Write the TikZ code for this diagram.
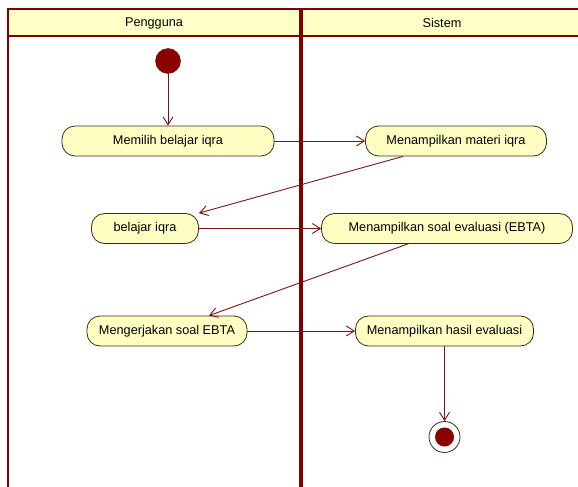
\documentclass[tikz,border=0pt]{standalone}
\usepackage{fontspec}
\setmainfont{Liberation Sans}
\usetikzlibrary{arrows.meta}

\definecolor{laneline}{RGB}{128,0,0}
\definecolor{flowline}{RGB}{120,20,20}
\definecolor{headfill}{RGB}{255,255,200}
\definecolor{actfill}{RGB}{255,255,196}
\definecolor{actline}{RGB}{60,45,20}
\definecolor{dotred}{RGB}{140,0,0}

\begin{document}
\begin{tikzpicture}[x=1pt,y=-1pt,font=\fontsize{12.7}{14}\selectfont]

      \useasboundingbox (0,0) rectangle (578,487);

      % swimlanes
      \fill[headfill] (8,9) rectangle (580,36);
      \draw[laneline,line width=2.5pt] (8,490) -- (8,9) -- (580,9);
      \draw[laneline,line width=2.5pt] (8,36) -- (580,36);
      \draw[laneline,line width=4pt] (301,9) -- (301,490);
      \node (pengguna) at (154,23) {Pengguna};
      \node (sistem)   at (442,23) {Sistem};

      \node[circle,fill=dotred,draw=dotred!70!black,minimum size=25pt,inner sep=0pt] (start) at (168,61) {};
      \node[circle,draw=actline,line width=0.8pt,fill=white,minimum size=31pt,inner sep=0pt] (end) at (444.5,437) {};
      \fill[dotred] (end.center) circle[radius=9.5pt];

      \begin{scope}[every node/.style={draw=actline,line width=0.8pt,fill=actfill,rounded corners=13pt,
          minimum height=30pt,inner sep=0pt}]
        \node[minimum width=212pt] (memilih)    at (168,141)   {Memilih belajar iqra};
        \node[minimum width=181pt] (materi)     at (456,141)   {Menampilkan materi iqra};
        \node[minimum width=107pt] (belajar)    at (145,228.5) {belajar iqra};
        \node[minimum width=251pt] (soal)       at (447,228.5) {Menampilkan soal evaluasi (EBTA)};
        \node[minimum width=160pt] (mengerjakan) at (167,331)  {Mengerjakan soal EBTA};
        \node[minimum width=178pt] (hasil)      at (444.5,331) {Menampilkan hasil evaluasi};
      \end{scope}

      \begin{scope}[every edge/.style={draw=flowline,line width=0.9pt,
          -{Straight Barb[length=8pt,width=10pt]}}]
        \path (start)       edge (memilih);
        \path (memilih)     edge (materi);
        \path ([xshift=-53pt]materi.south) edge (belajar.north east);
        \path (belajar)     edge (soal);
        \path ([xshift=-39pt]soal.south)   edge ([xshift=42pt]mengerjakan.north);
        \path (mengerjakan) edge (hasil);
        \path (hasil)       edge (end);
      \end{scope}

    \end{tikzpicture}
\end{document}
